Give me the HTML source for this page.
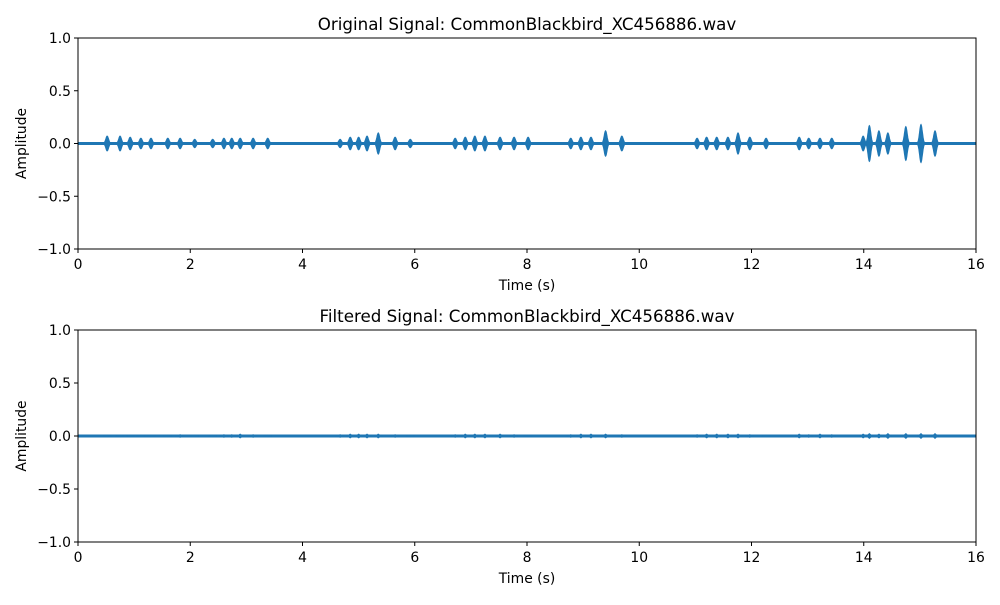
<!DOCTYPE html>
<html><head><meta charset="utf-8"><style>
body{margin:0;background:#fff;font-family:"Liberation Sans","DejaVu Sans",sans-serif}
svg text{font-family:"DejaVu Sans","Liberation Sans",sans-serif;fill:#000}
</style></head><body>
<svg id="fig" width="1000" height="600"></svg>
<script>
const burstTimes=[0.52,0.75,0.93,1.12,1.3,1.6,1.82,2.08,2.4,2.6,2.74,2.89,3.12,3.38,4.67,4.85,5.0,5.15,5.35,5.65,5.92,6.72,6.9,7.07,7.25,7.52,7.77,8.02,8.78,8.96,9.14,9.4,9.69,11.03,11.2,11.38,11.58,11.76,11.97,12.26,12.85,13.02,13.22,13.43,13.99,14.1,14.27,14.43,14.75,15.02,15.27];
const origAmps=[0.07,0.07,0.06,0.05,0.05,0.05,0.05,0.04,0.04,0.05,0.05,0.05,0.05,0.05,0.04,0.06,0.06,0.07,0.1,0.06,0.04,0.05,0.06,0.07,0.07,0.06,0.06,0.06,0.05,0.06,0.06,0.12,0.07,0.05,0.06,0.06,0.06,0.1,0.06,0.05,0.06,0.05,0.05,0.05,0.07,0.17,0.12,0.1,0.16,0.18,0.12];
const filtAmps=[0.01,0.01,0.01,0.01,0.01,0.01,0.015,0.01,0.01,0.015,0.015,0.02,0.015,0.01,0.015,0.02,0.02,0.02,0.02,0.015,0.01,0.015,0.02,0.02,0.02,0.02,0.015,0.01,0.015,0.02,0.02,0.02,0.015,0.015,0.02,0.02,0.02,0.02,0.015,0.01,0.02,0.015,0.02,0.015,0.02,0.025,0.02,0.025,0.025,0.025,0.025];
const xTicks=[0,2,4,6,8,10,12,14,16];
const yTicks=[-1.0,-0.5,0.0,0.5,1.0];
const NS="http://www.w3.org/2000/svg";
const svg=document.getElementById('fig');
function mk(tag,attrs,parent){const e=document.createElementNS(NS,tag);for(const k in attrs)e.setAttribute(k,attrs[k]);(parent||svg).appendChild(e);return e;}
function panel(top,bottom,title,amps,name,sw){
  const L=78,R=976;
  const g=mk('g',{});
  
  
  const x=t=>L+(t-0)/16*(R-L);
  const y=v=>bottom-(v+1)/2*(bottom-top);
  const base=mk('line',{x1:L,x2:R,y1:y(0),y2:y(0),stroke:'#1f77b4','stroke-width':3},g);
  
  
  burstTimes.forEach((t,i)=>{
    const a=amps[i];const sig=0.025;let up='',dn='';
    for(let k=-12;k<=12;k++){const tt=t+k*sig/4;const env=a*Math.exp(-((k/4)**2)/2);
      up+=(k==-12?'M':'L')+x(tt).toFixed(1)+','+y(env).toFixed(1);
      dn='L'+x(tt).toFixed(1)+','+y(-env).toFixed(1)+dn;}
    const p=mk('path',{d:up+dn+'Z',fill:'#1f77b4',stroke:'#1f77b4','stroke-width':sw},g);
    
    
  });
  const fr=mk('rect',{x:L,y:top,width:R-L,height:bottom-top,fill:'none',stroke:'#000','stroke-width':1},g);
  
  
  xTicks.forEach(v=>{mk('line',{x1:x(v),x2:x(v),y1:bottom,y2:bottom+4,stroke:'#000'},g);
    const t=mk('text',{x:x(v),y:bottom+20,'text-anchor':'middle','font-size':13.9},g);t.textContent=v;
    });
  yTicks.forEach(v=>{mk('line',{x1:L-4,x2:L,y1:y(v),y2:y(v),stroke:'#000'},g);
    const t=mk('text',{x:L-7,y:y(v)+5,'text-anchor':'end','font-size':13.9},g);t.textContent=(v<0?'\u2212':'')+Math.abs(v).toFixed(1);
    });
  const tt=mk('text',{x:(L+R)/2,y:top-8,'text-anchor':'middle','font-size':16.7},g);tt.textContent=title;
  
  const xl=mk('text',{x:(L+R)/2,y:bottom+41,'text-anchor':'middle','font-size':13.9},g);xl.textContent='Time (s)';
  
  const yl=mk('text',{x:0,y:0,'text-anchor':'middle','font-size':13.9,transform:`translate(26,${(top+bottom)/2}) rotate(-90)`},g);yl.textContent='Amplitude';
  
}
panel(38,249,'Original Signal: CommonBlackbird_XC456886.wav',origAmps,'original-signal-panel',1);
panel(330,542,'Filtered Signal: CommonBlackbird_XC456886.wav',filtAmps,'filtered-signal-panel',0.3);
</script>
</body></html>
